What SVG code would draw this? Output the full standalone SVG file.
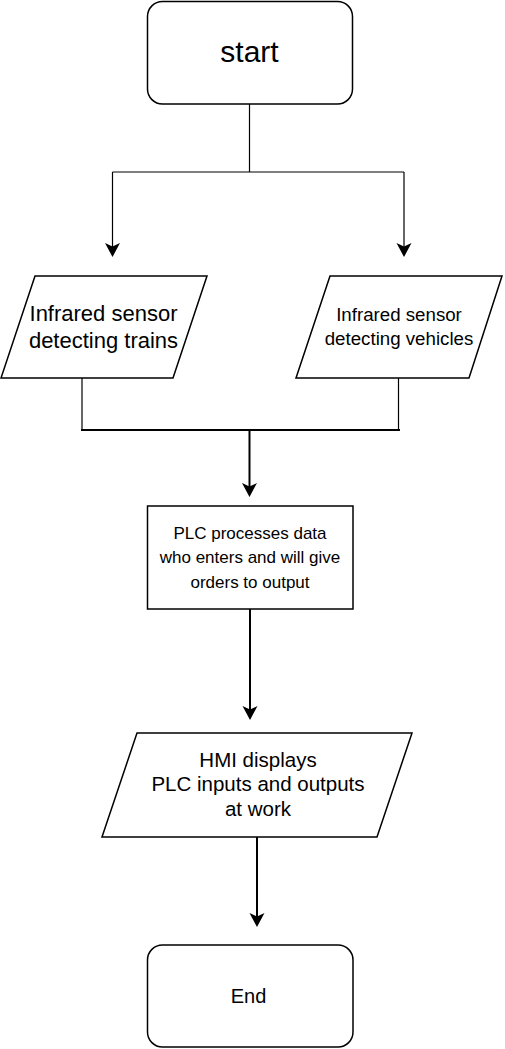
<svg xmlns="http://www.w3.org/2000/svg" width="505" height="1049" viewBox="0 0 505 1049">
<style>
.box{fill:#fff;stroke:#000;stroke-width:1.5}
.t{font-family:"Liberation Sans",Arial,sans-serif;fill:#000;text-anchor:middle}
.c1{fill:none;stroke:#000;stroke-width:1.2}
.c2{fill:none;stroke:#000;stroke-width:2}
</style>
<defs>
<marker id="arr" markerUnits="userSpaceOnUse" markerWidth="16" markerHeight="16" viewBox="0 -8 16 16" refX="10" refY="0" orient="auto" overflow="visible">
<path d="M14,0 L0,-7.5 L3.5,0 L0,7.5 Z" fill="#000"/>
</marker>
</defs>
<rect width="505" height="1049" fill="#fff"/>
<g id="connectors">
<path class="c1" d="M249.5,104 V172"/>
<path class="c1" d="M112.5,172 H404"/>
<path class="c1" d="M112.5,172 V253" marker-end="url(#arr)"/>
<path class="c1" d="M404,172 V253" marker-end="url(#arr)"/>
<path class="c1" d="M82,378 V430"/>
<path class="c1" d="M398.5,378 V430"/>
<path class="c2" d="M81,430 H400"/>
<path class="c2" d="M249.5,430 V493" marker-end="url(#arr)"/>
<path class="c2" d="M250,609 V716" marker-end="url(#arr)"/>
<path class="c2" d="M257,837 V923" marker-end="url(#arr)"/>
</g>
<g id="start">
<rect class="box" x="147.5" y="1.5" width="205" height="102.5" rx="15"/>
<text class="t" x="249.5" y="62" font-size="30">start</text>
</g>
<g id="sensor-trains">
<polygon class="box" points="35,276 207,276 173,378 1,378"/>
<text class="t" x="103.5" y="321" font-size="22">Infrared sensor</text>
<text class="t" x="103.5" y="348" font-size="22">detecting trains</text>
</g>
<g id="sensor-vehicles">
<polygon class="box" points="330,276 502,276 469,378 296,378"/>
<text class="t" x="399" y="321" font-size="18.7">Infrared sensor</text>
<text class="t" x="399" y="344.5" font-size="18.7">detecting vehicles</text>
</g>
<g id="plc">
<rect class="box" x="147.5" y="506" width="205.5" height="103"/>
<text class="t" x="250" y="539" font-size="17">PLC processes data</text>
<text class="t" x="250" y="563" font-size="17">who enters and will give</text>
<text class="t" x="250" y="588" font-size="17">orders to output</text>
</g>
<g id="hmi">
<polygon class="box" points="137,733 412,733 377,837 102,837"/>
<text class="t" x="258" y="767" font-size="20.5">HMI displays</text>
<text class="t" x="258" y="791" font-size="20.5">PLC inputs and outputs</text>
<text class="t" x="258" y="816" font-size="20.5">at work</text>
</g>
<g id="end">
<rect class="box" x="147.5" y="945" width="205.5" height="102" rx="15"/>
<text class="t" x="248.5" y="1003" font-size="20">End</text>
</g>
</svg>
